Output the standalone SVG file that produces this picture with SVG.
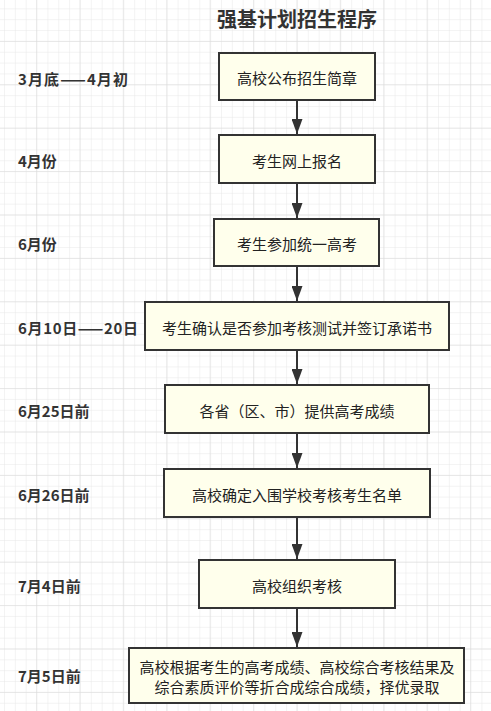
<svg xmlns="http://www.w3.org/2000/svg" width="491" height="711" viewBox="0 0 491 711">
<defs>
<style>
.box{fill:#ffffec;stroke:#333;stroke-width:2}
.t{font-family:"Noto Sans CJK SC","Noto Sans",sans-serif;font-size:15px;fill:#222;text-anchor:middle;dominant-baseline:central}
.lab{font-family:"Noto Sans CJK SC","Noto Sans",sans-serif;font-size:15px;font-weight:bold;fill:#333;dominant-baseline:central}
.title{font-family:"Noto Sans CJK SC","Noto Sans",sans-serif;font-size:20px;font-weight:bold;fill:#333;text-anchor:middle;dominant-baseline:central}
.edge{stroke:#333;stroke-width:2;fill:none;marker-end:url(#arr)}
</style>
<marker id="arr" markerWidth="15" markerHeight="11" refX="15" refY="5.5" orient="auto" markerUnits="userSpaceOnUse" viewBox="0 0 15 11">
<path d="M0,0 L15,5.5 L0,11 Z" fill="#333"/>
</marker>
<pattern id="g" width="10.85" height="10.85" patternUnits="userSpaceOnUse" x="4" y="-2.5">
<path d="M0,0 H10.85 M0,0 V10.85" stroke="#e8e8e8" stroke-width="1" fill="none"/>
</pattern>
<pattern id="G" width="43.4" height="43.4" patternUnits="userSpaceOnUse" x="36" y="-2.5">
<path d="M0,0 H43.4 M0,0 V43.4" stroke="#dadada" stroke-width="1" fill="none"/>
</pattern>
</defs>
<rect width="491" height="711" fill="#fff"/>
<rect width="491" height="711" fill="url(#g)"/>
<rect width="491" height="711" fill="url(#G)"/>
<text class="title" x="297" y="18">强基计划招生程序</text>
<g id="labels">
<text class="lab" x="18" y="78" textLength="110" lengthAdjust="spacing">3月底——4月初</text>
<text class="lab" x="18" y="160">4月份</text>
<text class="lab" x="18" y="243">6月份</text>
<text class="lab" x="18" y="327" textLength="120" lengthAdjust="spacing">6月10日——20日</text>
<text class="lab" x="18" y="410">6月25日前</text>
<text class="lab" x="18" y="494">6月26日前</text>
<text class="lab" x="18" y="585">7月4日前</text>
<text class="lab" x="18" y="675">7月5日前</text>
</g>
<g id="connectors">
<line class="edge" x1="297" y1="101" x2="297" y2="134"/>
<line class="edge" x1="297" y1="184" x2="297" y2="218"/>
<line class="edge" x1="297" y1="267" x2="297" y2="301"/>
<line class="edge" x1="297" y1="351" x2="297" y2="384"/>
<line class="edge" x1="297" y1="434" x2="297" y2="468"/>
<line class="edge" x1="297" y1="518" x2="297" y2="559"/>
<line class="edge" x1="297" y1="609" x2="297" y2="647"/>
</g>
<g id="n1"><rect class="box" x="219" y="53" width="156" height="47"/><text class="t" x="297" y="77">高校公布招生简章</text></g>
<g id="n2"><rect class="box" x="219" y="135" width="156" height="48"/><text class="t" x="297" y="160">考生网上报名</text></g>
<g id="n3"><rect class="box" x="214" y="219" width="165" height="47"/><text class="t" x="297" y="243">考生参加统一高考</text></g>
<g id="n4"><rect class="box" x="145" y="302" width="304" height="48"/><text class="t" x="297" y="327">考生确认是否参加考核测试并签订承诺书</text></g>
<g id="n5"><rect class="box" x="165" y="385" width="264" height="48"/><text class="t" x="297" y="410">各省（区、市）提供高考成绩</text></g>
<g id="n6"><rect class="box" x="164" y="469" width="266" height="48"/><text class="t" x="297" y="494">高校确定入围学校考核考生名单</text></g>
<g id="n7"><rect class="box" x="199" y="560" width="196" height="48"/><text class="t" x="297" y="585">高校组织考核</text></g>
<g id="n8"><rect class="box" x="129" y="648" width="335" height="55"/><text class="t" x="297" y="666">高校根据考生的高考成绩、高校综合考核结果及</text><text class="t" x="297" y="686">综合素质评价等折合成综合成绩，择优录取</text></g>
</svg>
